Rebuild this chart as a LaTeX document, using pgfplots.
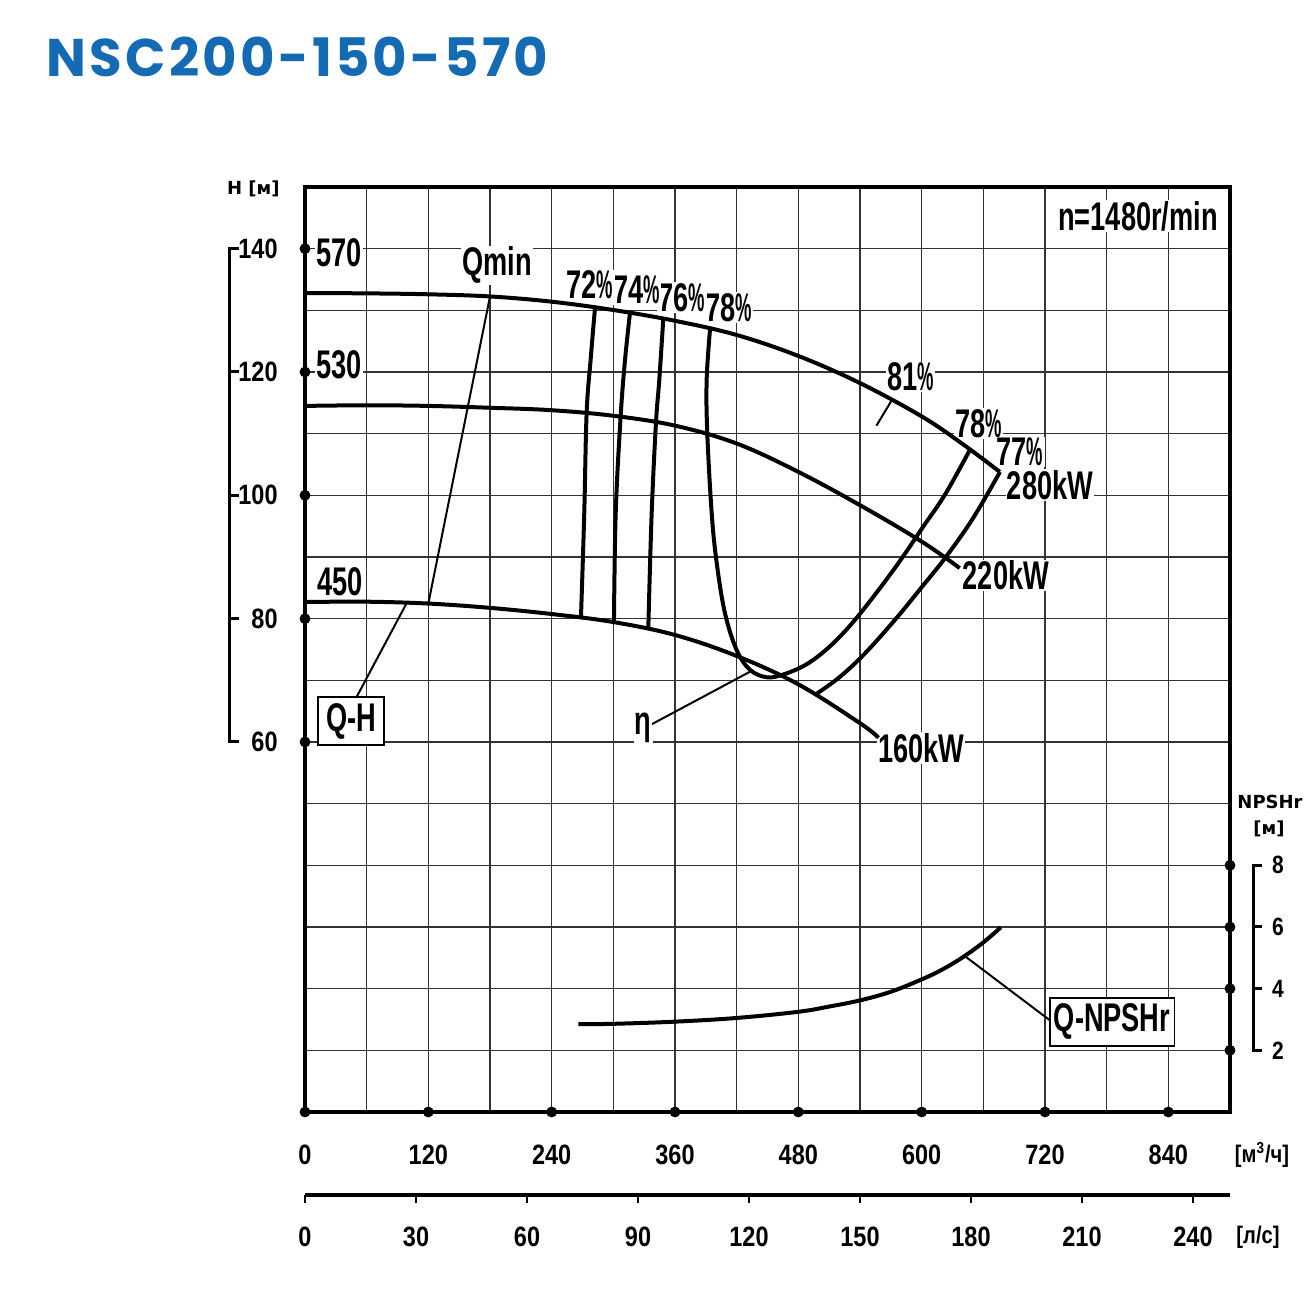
\documentclass[border=0pt]{standalone}
\usepackage{fontspec}
\usepackage{pgfplots}
\pgfplotsset{compat=1.18}
\setmainfont{Liberation Sans}
\newfontfamily\cond{Liberation Sans}[FakeStretch=0.68]
\newfontfamily\condpc{Liberation Sans}[FakeStretch=0.46]
\newfontfamily\condt{Liberation Sans}[FakeStretch=0.84]
\newfontfamily\dejab{DejaVu Sans}
\newfontfamily\titlefont{Poppins}[LetterSpace=6]
\definecolor{titleblue}{RGB}{21,106,180}

\newcommand\curvelabel{\cond\bfseries\fontsize{20}{20}\selectfont}
\newcommand\ticklab{\condt\bfseries\fontsize{14}{14}\selectfont}
\newcommand\smalltick{\condt\bfseries\fontsize{12.5}{12.5}\selectfont}
% narrow percent sign for the efficiency labels
\newcommand\pc{{\condpc\bfseries\%}}

\pgfplotsset{
  hq/.style={black, line width=2pt, smooth, tension=0.6, mark=none},
}
\tikzset{
  lead/.style={black, line width=1pt},
  lab/.style={font=\curvelabel, fill=white, inner sep=0.6pt},
  box/.style={draw=black, line width=0.7pt, fill=white, font=\curvelabel, inner ysep=3pt},
  brk/.style={black, line width=1.5pt},
}

\begin{document}
\begin{tikzpicture}
\path[use as bounding box] (0,0) rectangle (655pt,647.5pt);

\node[font=\titlefont\bfseries\fontsize{26.5}{26.5}\selectfont, text=titleblue, inner sep=0pt]
  at (148.75pt,619.25pt) {NSC200-150-570};

% ---------- head / efficiency / power (Q in m3/h, H in m)
\begin{axis}[
  at={(152.5pt,91.5pt)}, anchor=south west,
  scale only axis, width=462.5pt, height=462.5pt,
  xmin=0, xmax=900, ymin=0, ymax=150,
  xtick={0,60,...,900}, ytick={0,10,...,150},
  xticklabels={0,,120,,240,,360,,480,,600,,720,,840,,},
  yticklabels={,,,,,,60,,80,,100,,120,,140,},
  grid=major, major grid style={line width=0.7pt, black!80},
  major tick length=0pt,
  axis line style={line width=1.6pt, black},
  xticklabel style={font=\ticklab, anchor=center, yshift=-21.5pt},
  yticklabel style={font=\ticklab, anchor=east, inner sep=0pt, xshift=-13.5pt},
  /pgf/number format/assume math mode=true,
  clip=false,
]
% labels (white background hides the grid)
\node[lab] at (axis cs:33.1,139.3) {570};
\node[lab] at (axis cs:33.1,121.1) {530};
\node[lab] at (axis cs:34.1,86.0) {450};
\node[lab] at (axis cs:187.2,137.3) {Qmin};
\node[lab] at (axis cs:412.5,130.4) {78\pc};
\node[lab] at (axis cs:366.8,132.1) {76\pc};
\node[lab] at (axis cs:323.0,133.4) {74\pc};
\node[lab] at (axis cs:277.3,134.1) {72\pc};
\node[lab] at (axis cs:589.6,119.2) {81\pc};
\node[lab] at (axis cs:655.5,111.6) {78\pc};
\node[lab] at (axis cs:695.7,107.0) {77\pc};
\node[lab] at (axis cs:724.9,101.7) {280kW};
\node[lab] at (axis cs:682.0,87.0) {220kW};
\node[lab] at (axis cs:599.5,59.0) {160kW};
\node[lab] at (axis cs:328.9,62.3) {η};
\node[lab] at (axis cs:810.5,145.3) {n=1480r/min};

% impeller curves
\addplot[hq] coordinates {(0,132.8)(60,132.75)(120,132.6)(180,132.25)(240,131.4)(300,130.05)(360,128.3)(420,126.0)(480,122.6)(540,118.2)(600,112.8)(640,108.3)(676,103.8)};
\addplot[hq] coordinates {(0,114.5)(60,114.6)(120,114.5)(180,114.2)(240,113.8)(300,112.9)(360,111.3)(420,108.4)(480,103.8)(540,98.4)(600,92.5)(637,88.2)};
\addplot[hq] coordinates {(0,82.7)(60,82.75)(120,82.45)(180,81.75)(240,80.75)(300,79.45)(360,77.35)(420,73.95)(480,69.35)(540,63.05)(558,60.7)};

% efficiency iso-lines
\addplot[hq] coordinates {(282.2,130.45)(277.9,122.0)(274.0,113.3)(271.7,97.1)(268.5,80.15)};
\addplot[hq] coordinates {(316.2,129.6)(311.4,122.0)(307.1,112.8)(302.3,97.1)(300.6,79.45)};
\addplot[hq] coordinates {(348.6,128.6)(344.7,118.7)(341.5,111.8)(337.3,97.1)(334.0,78.3)};
\addplot[hq] coordinates {(394.1,127.0)(390.8,118.7)(391.4,110.1)(395.7,97.1)(400.6,89.0)(408.6,80.9)(420,74.9)(433,71.7)(449.2,70.5)(465.4,70.95)(488,72.6)(510,75.4)(532,79.2)(556,84.2)(579,89.4)(601,94.8)(623,100.2)(647,107.4)};
\addplot[hq] coordinates {(676.2,103.8)(650,96.3)(624,90.1)(600,85.1)(575,80.0)(545,74.4)(520,70.5)(496.2,67.65)};

% leader lines
\draw[lead] (axis cs:180,132.25) -- (axis cs:120,82.45);
\draw[lead] (axis cs:99,82.55) -- (axis cs:48.6,66.8);
\draw[lead] (axis cs:337.6,62.9) -- (axis cs:433,71.4);
\draw[lead] (axis cs:570.8,115.4) -- (axis cs:556,111.3);

\node[box, inner xsep=4pt] at (axis cs:44.8,63.4) {Q-H};

% axis dots and bracket
\addplot[only marks, mark=*, mark size=2.5pt, black] coordinates {(0,60)(0,80)(0,100)(0,120)(0,140)};
\addplot[only marks, mark=*, mark size=2.5pt, black] coordinates {(0,0)(120,0)(240,0)(360,0)(480,0)(600,0)(720,0)(840,0)};
\draw[brk] (axis cs:-64.2,140) -- (axis cs:-73.5,140) -- (axis cs:-73.5,60) -- (axis cs:-64.2,60);
\draw[brk] (axis cs:-73.5,80) -- (axis cs:-64.2,80);
\draw[brk] (axis cs:-73.5,100) -- (axis cs:-64.2,100);
\draw[brk] (axis cs:-73.5,120) -- (axis cs:-64.2,120);
\end{axis}

% ---------- NPSHr (right scale)
\begin{axis}[
  at={(152.5pt,91.5pt)}, anchor=south west,
  scale only axis, width=462.5pt, height=462.5pt,
  xmin=0, xmax=900, ymin=0, ymax=30,
  axis x line=none, axis y line*=right,
  axis line style={draw=none},
  ytick={2,4,6,8}, yticklabels={2,4,6,8},
  major tick length=0pt,
  yticklabel style={font=\smalltick, anchor=center, xshift=24pt},
  clip=false,
]
\addplot[hq] coordinates {(266,2.85)(300,2.86)(360,2.93)(420,3.05)(480,3.25)(510,3.42)(540,3.62)(570,3.90)(600,4.30)(620,4.62)(640,5.02)(660,5.50)(677,5.99)};
\draw[lead] (axis cs:641.8,5.06) -- (axis cs:726.5,2.93);
\node[box, inner xsep=2pt] at (axis cs:785.2,2.92) {Q-NPSHr};
\addplot[only marks, mark=*, mark size=2.5pt, black] coordinates {(900,2)(900,4)(900,6)(900,8)};
\draw[brk] (axis cs:931.1,8) -- (axis cs:922.4,8) -- (axis cs:922.4,2) -- (axis cs:931.1,2);
\draw[brk] (axis cs:922.4,4) -- (axis cs:931.1,4);
\draw[brk] (axis cs:922.4,6) -- (axis cs:931.1,6);
\end{axis}

% ---------- flow in l/s
\begin{axis}[
  at={(152.5pt,50pt)}, anchor=south west,
  scale only axis, width=462.5pt, height=10pt,
  xmin=0, xmax=250, ymin=0, ymax=1,
  axis x line=bottom, axis y line=none,
  axis line style={-, line width=1.6pt, black},
  xtick={0,30,...,240},
  xticklabels={0,30,60,90,120,150,180,210,240},
  tick align=outside, major tick length=4pt,
  xtick style={line width=0.6pt, black},
  xticklabel style={font=\ticklab, anchor=center, yshift=-17pt},
]
\addplot[draw=none] coordinates {(0,0)(250,1)};
\end{axis}

% unit captions
\node[font=\dejab\bfseries\fontsize{9}{9}\selectfont, inner sep=0pt] at (126.7pt,553.1pt) {H [м]};
\node[font=\dejab\bfseries\fontsize{9}{9}\selectfont, inner sep=0pt] at (635pt,246.75pt) {NPSHr};
\node[font=\dejab\bfseries\fontsize{9}{9}\selectfont, inner sep=0pt] at (634.5pt,233.25pt) {[м]};
\node[font=\condt\bfseries\fontsize{12}{12}\selectfont, inner sep=0pt] at (631pt,70pt) {[м\textsuperscript{3}/ч]};
\node[font=\condt\bfseries\fontsize{12}{12}\selectfont, inner sep=0pt] at (629pt,29pt) {[л/с]};
\end{tikzpicture}
\end{document}
